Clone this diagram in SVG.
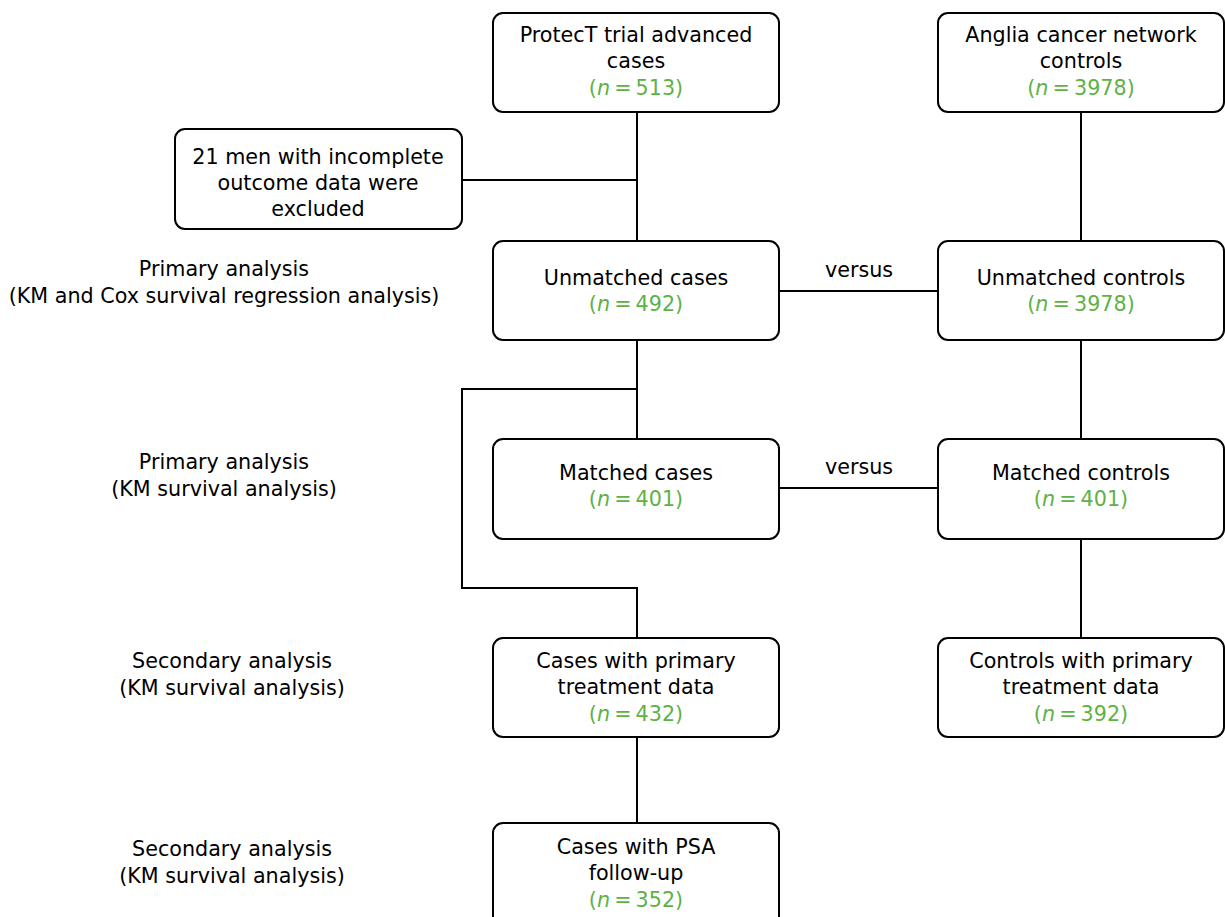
<svg xmlns="http://www.w3.org/2000/svg" width="1225" height="917" viewBox="0 0 1225 917">
<style>
.box{fill:#fff;stroke:#000;stroke-width:2}
text{font-family:"DejaVu Sans","Noto Sans",sans-serif;font-size:20.7px;fill:#000;text-anchor:middle}
.g{fill:#5db246}
.c{fill:none;stroke:#000;stroke-width:2}
</style>
<rect width="1225" height="917" fill="#fff"/>
<g id="connectors">
<path class="c" d="M637 112V241M462 180H637M1081 112V241M779 291H938M637 340V439M637 389H462V588H637V638M779 488H938M1081 340V439M1081 539V638M637 737V823"/>
<text x="859" y="277">versus</text>
<text x="859" y="474">versus</text>
</g>
<g id="labels">
<text x="224" y="276">Primary analysis</text>
<text x="224" y="303">(KM and Cox survival regression analysis)</text>
<text x="224" y="469">Primary analysis</text>
<text x="224" y="496">(KM survival analysis)</text>
<text x="232" y="668">Secondary analysis</text>
<text x="232" y="695">(KM survival analysis)</text>
<text x="232" y="856">Secondary analysis</text>
<text x="232" y="883">(KM survival analysis)</text>
</g>
<g id="n1"><rect class="box" x="493" y="13" width="286" height="99" rx="10"/>
<text x="636" y="42">ProtecT trial advanced</text><text x="636" y="68">cases</text><text x="636" y="95" class="g">(<tspan font-style="italic">n</tspan>&#8201;=&#8201;513)</text></g>
<g id="n2"><rect class="box" x="938" y="13" width="286" height="99" rx="10"/>
<text x="1081" y="42">Anglia cancer network</text><text x="1081" y="68">controls</text><text x="1081" y="95" class="g">(<tspan font-style="italic">n</tspan>&#8201;=&#8201;3978)</text></g>
<g id="n3"><rect class="box" x="175" y="129" width="287" height="100" rx="10"/>
<text x="318" y="164">21 men with incomplete</text><text x="318" y="190">outcome data were</text><text x="318" y="216">excluded</text></g>
<g id="n4"><rect class="box" x="493" y="241" width="286" height="99" rx="10"/>
<text x="636" y="285">Unmatched cases</text><text x="636" y="311" class="g">(<tspan font-style="italic">n</tspan>&#8201;=&#8201;492)</text></g>
<g id="n5"><rect class="box" x="938" y="241" width="286" height="99" rx="10"/>
<text x="1081" y="285">Unmatched controls</text><text x="1081" y="311" class="g">(<tspan font-style="italic">n</tspan>&#8201;=&#8201;3978)</text></g>
<g id="n6"><rect class="box" x="493" y="439" width="286" height="100" rx="10"/>
<text x="636" y="480">Matched cases</text><text x="636" y="506" class="g">(<tspan font-style="italic">n</tspan>&#8201;=&#8201;401)</text></g>
<g id="n7"><rect class="box" x="938" y="439" width="286" height="100" rx="10"/>
<text x="1081" y="480">Matched controls</text><text x="1081" y="506" class="g">(<tspan font-style="italic">n</tspan>&#8201;=&#8201;401)</text></g>
<g id="n8"><rect class="box" x="493" y="638" width="286" height="99" rx="10"/>
<text x="636" y="668">Cases with primary</text><text x="636" y="694">treatment data</text><text x="636" y="721" class="g">(<tspan font-style="italic">n</tspan>&#8201;=&#8201;432)</text></g>
<g id="n9"><rect class="box" x="938" y="638" width="286" height="99" rx="10"/>
<text x="1081" y="668">Controls with primary</text><text x="1081" y="694">treatment data</text><text x="1081" y="721" class="g">(<tspan font-style="italic">n</tspan>&#8201;=&#8201;392)</text></g>
<g id="n10"><rect class="box" x="493" y="823" width="286" height="110" rx="10"/>
<text x="636" y="854">Cases with PSA</text><text x="636" y="880">follow-up</text><text x="636" y="907" class="g">(<tspan font-style="italic">n</tspan>&#8201;=&#8201;352)</text></g>
</svg>
